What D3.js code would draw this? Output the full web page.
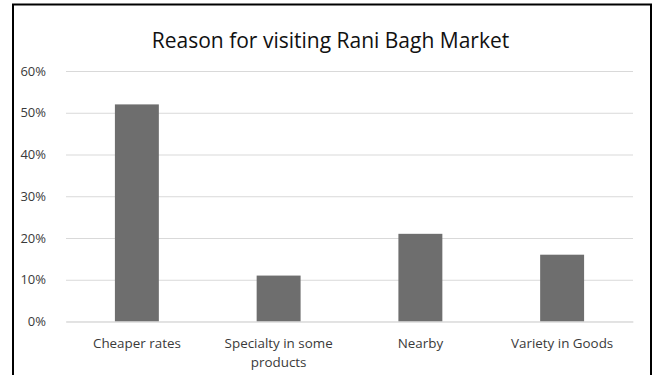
<!DOCTYPE html>
<html><head><meta charset="utf-8">
<script src="https://cdn.jsdelivr.net/npm/d3@7"></script>
<style>
html,body{margin:0;padding:0;background:#fff;}
text{font-family:"Open Sans","Noto Sans",sans-serif;}
</style></head>
<body><svg id="c" width="654" height="375"></svg>
<script>
const categories = ["Cheaper rates", "Specialty in some\nproducts", "Nearby", "Variety in Goods"];
const values = [0.52, 0.11, 0.21, 0.16];
const yTicks = [0, 0.1, 0.2, 0.3, 0.4, 0.5, 0.6];
const title = "Reason for visiting Rani Bagh Market";

const svg = d3.select("#c");
svg.append("rect").attr("x", 13).attr("y", 4.5).attr("width", 638).attr("height", 380)
  .attr("fill", "#fff").attr("stroke", "#000").attr("stroke-width", 2);

const mLeft = 66, mRight = 633, mTop = 71, mBottom = 321.5;
const x = d3.scaleBand().domain(categories).range([mLeft, mRight]).paddingInner(0.69).paddingOuter(0.345);
const y = d3.scaleLinear().domain([0, 0.6]).range([mBottom, mTop]);

svg.append("text").attr("x", 330.5).attr("y", 48).attr("text-anchor", "middle")
  .attr("font-size", 21).attr("fill", "#111").text(title);

const ya = svg.append("g").attr("transform", `translate(${mLeft},0)`)
  .call(d3.axisLeft(y).tickValues(yTicks).tickSize(-(mRight - mLeft)).tickPadding(20).tickFormat(d3.format(".0%")));
ya.select(".domain").remove();
ya.selectAll(".tick line").attr("stroke", "#d9d9d9").attr("stroke-width", 1);
ya.selectAll(".tick text").attr("font-size", 13).attr("fill", "#3a3a3a")
  .style("font-family", '"Open Sans","Noto Sans",sans-serif');

svg.append("g").selectAll("rect").data(values).join("rect")
  .attr("x", (d, i) => x(categories[i])).attr("width", x.bandwidth())
  .attr("y", d => y(d)).attr("height", d => y(0) - y(d))
  .attr("fill", "#6e6e6e");

const xa = svg.append("g").attr("transform", `translate(0,${mBottom})`)
  .call(d3.axisBottom(x).tickSize(0).tickFormat(""));
xa.select(".domain").attr("stroke", "#d9d9d9");
xa.selectAll(".tick").each(function(d) {
  const lines = d.split("\n");
  const t = d3.select(this).append("text").attr("text-anchor", "middle")
    .attr("font-size", 13.4).attr("fill", "#3a3a3a");
  lines.forEach((l, i) => t.append("tspan").attr("x", 0).attr("y", 26 + i * 19).text(l));
});
</script></body></html>
